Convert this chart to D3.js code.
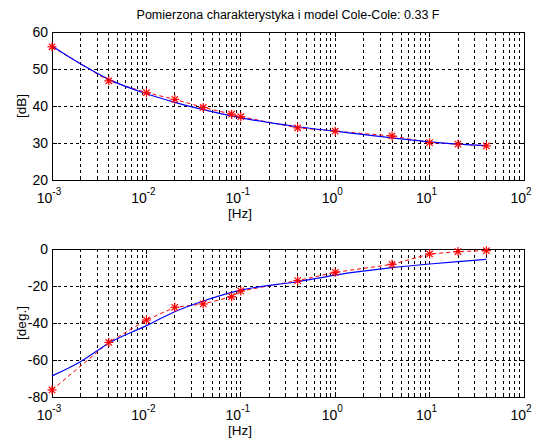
<!DOCTYPE html>
<html>
<head>
<meta charset="utf-8">
<script src="https://cdn.jsdelivr.net/npm/d3@7"></script>
<style>
  body { margin: 0; background: #fff; }
  text { font-family: "Liberation Sans", Arial, sans-serif; fill: #000; }
</style>
</head>
<body>
<div id="chart"></div>
<script>
var w = 534;
var h = 439;

// measured points
var freq = [0.001, 0.004, 0.01, 0.02, 0.04, 0.08, 0.1, 0.4, 1, 4, 10, 20, 40];
var dbMeas = [56.0, 46.8, 43.6, 41.8, 39.6, 37.8, 37.1, 34.1, 33.2, 31.9, 30.1, 29.7, 29.2];
var phaseMeas = [-76.2, -50.5, -38.4, -31.5, -29.7, -25.8, -22.7, -17.1, -12.6, -8.3, -2.7, -1.4, -0.9];

// Cole-Cole model curve
var modelFreq = [0.001, 0.002, 0.004, 0.01, 0.02, 0.04, 0.1, 0.4, 1, 4, 10, 20, 40];
var dbModel = [56.2, 51.4, 47.2, 43.3, 41.0, 39.0, 36.8, 34.4, 33.2, 31.4, 30.3, 29.7, 29.3];
var phaseModel = [-68.6, -60.9, -50.9, -41.4, -33.9, -28.1, -22.2, -17.7, -14.1, -10.1, -8.1, -6.8, -5.6];

var xTicks = [-3, -2, -1, 0, 1, 2];
var dbTicks = [20, 30, 40, 50, 60];
var phaseTicks = [-80, -60, -40, -20, 0];

var svg = d3.select("#chart").append("svg").attr("width", w).attr("height", h);

svg.append("text")
  .attr("x", 288).attr("y", 19)
  .attr("text-anchor", "middle")
  .attr("font-size", 12.5)
  .text("Pomierzona charakterystyka i model Cole-Cole: 0.33 F");

var left = 52, right = 524;

function panel(top, bottom, yDom, yTicks, yLab, meas, model, mFreq) {
  var x = d3.scaleLog().domain([1e-3, 1e2]).range([left, right]);
  var y = d3.scaleLinear().domain(yDom).range([bottom, top]);
  var g = svg.append("g");

  // minor + major log positions
  var minor = [];
  for (var e = -3; e < 2; e++) {
    for (var k = 2; k <= 9; k++) minor.push(k * Math.pow(10, e));
  }
  var major = xTicks.map(function(d) { return Math.pow(10, d); });

  // grid
  g.selectAll(".gx").data(minor.concat(major.slice(1, -1))).enter().append("line")
    .attr("x1", function(d) { return x(d); }).attr("x2", function(d) { return x(d); })
    .attr("y1", top).attr("y2", bottom)
    .attr("stroke", "#000").attr("stroke-width", 1).attr("stroke-dasharray", "3,3")
    .attr("shape-rendering", "crispEdges");
  g.selectAll(".gy").data(yTicks.slice(1, -1)).enter().append("line")
    .attr("x1", left).attr("x2", right)
    .attr("y1", function(d) { return y(d); }).attr("y2", function(d) { return y(d); })
    .attr("stroke", "#000").attr("stroke-width", 1).attr("stroke-dasharray", "3,3")
    .attr("shape-rendering", "crispEdges");

  // inner ticks
  var tk = [];
  minor.forEach(function(d) { tk.push([d, 3]); });
  major.forEach(function(d) { tk.push([d, 5]); });
  tk.forEach(function(t) {
    g.append("line").attr("x1", x(t[0])).attr("x2", x(t[0]))
      .attr("y1", bottom).attr("y2", bottom - t[1])
      .attr("stroke", "#000").attr("shape-rendering", "crispEdges");
    g.append("line").attr("x1", x(t[0])).attr("x2", x(t[0]))
      .attr("y1", top).attr("y2", top + t[1])
      .attr("stroke", "#000").attr("shape-rendering", "crispEdges");
  });
  yTicks.forEach(function(d) {
    g.append("line").attr("x1", left).attr("x2", left + 5)
      .attr("y1", y(d)).attr("y2", y(d)).attr("stroke", "#000").attr("shape-rendering", "crispEdges");
    g.append("line").attr("x1", right).attr("x2", right - 5)
      .attr("y1", y(d)).attr("y2", y(d)).attr("stroke", "#000").attr("shape-rendering", "crispEdges");
  });

  // box
  g.append("rect").attr("x", left).attr("y", top)
    .attr("width", right - left).attr("height", bottom - top)
    .attr("fill", "none").attr("stroke", "#000").attr("shape-rendering", "crispEdges");

  // y tick labels
  g.selectAll(".yl").data(yTicks).enter().append("text")
    .attr("x", left - 4).attr("y", function(d) { return y(d) + 5; })
    .attr("text-anchor", "end").attr("font-size", 14)
    .text(function(d) { return d; });

  // x tick labels
  xTicks.forEach(function(d) {
    var t = g.append("text")
      .attr("x", x(Math.pow(10, d)) - 3).attr("y", bottom + 23)
      .attr("text-anchor", "middle").attr("font-size", 14);
    t.append("tspan").text("10");
    t.append("tspan").attr("dy", -8).attr("font-size", 10).text(d);
  });

  // axis labels
  g.append("text").attr("x", 240).attr("y", bottom + 38)
    .attr("text-anchor", "middle").attr("font-size", 13.5).text("[Hz]");
  g.append("text")
    .attr("transform", "translate(26," + ((top + bottom) / 2) + ") rotate(-90)")
    .attr("text-anchor", "middle").attr("font-size", 13.5).text(yLab);

  // measured: red dashed + asterisks
  var lineM = d3.line()
    .x(function(d, i) { return x(freq[i]); })
    .y(function(d) { return y(d); });
  g.append("path").datum(meas).attr("d", lineM)
    .attr("fill", "none").attr("stroke", "#ff0000").attr("stroke-width", 1)
    .attr("stroke-dasharray", "4,3");

  // model: blue
  var lineB = d3.line()
    .x(function(d, i) { return x(mFreq[i]); })
    .y(function(d) { return y(d); })
    .curve(d3.curveMonotoneX);
  g.append("path").datum(model).attr("d", lineB)
    .attr("fill", "none").attr("stroke", "#0000ff").attr("stroke-width", 1.2);

  var star = g.selectAll(".star").data(meas).enter().append("g")
    .attr("transform", function(d, i) { return "translate(" + x(freq[i]) + "," + y(d) + ")"; })
    .attr("stroke", "#ff0000").attr("stroke-width", 1.2);
  star.append("line").attr("x1", -4.5).attr("x2", 4.5).attr("y1", 0).attr("y2", 0);
  star.append("line").attr("x1", 0).attr("x2", 0).attr("y1", -4.5).attr("y2", 4.5);
  star.append("line").attr("x1", -3.2).attr("x2", 3.2).attr("y1", -3.2).attr("y2", 3.2);
  star.append("line").attr("x1", -3.2).attr("x2", 3.2).attr("y1", 3.2).attr("y2", -3.2);
}

panel(32, 180, [20, 60], dbTicks, "[dB]", dbMeas, dbModel, modelFreq);
panel(249, 397, [-80, 0], phaseTicks, "[deg.]", phaseMeas, phaseModel, modelFreq);
</script>
</body>
</html>
